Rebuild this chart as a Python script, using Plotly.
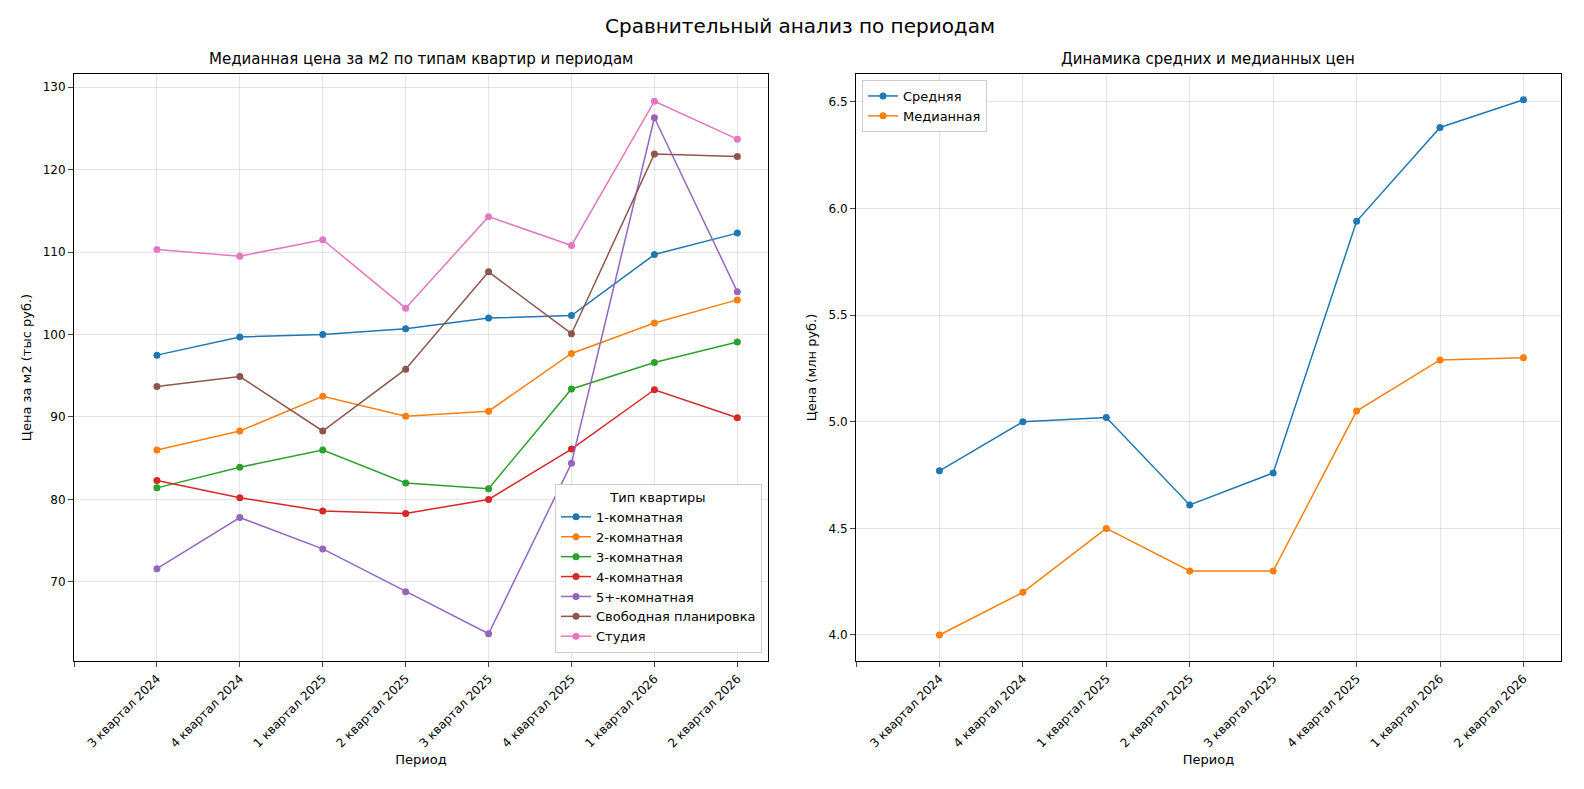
import plotly.graph_objects as go

periods = ["3 квартал 2024","4 квартал 2024","1 квартал 2025","2 квартал 2025",
           "3 квартал 2025","4 квартал 2025","1 квартал 2026","2 квартал 2026"]
types = ["1-комнатная","2-комнатная","3-комнатная","4-комнатная","5+-комнатная",
         "Свободная планировка","Студия"]
room1 = [97.5, 99.7, 100.0, 100.7, 102.0, 102.3, 109.7, 112.3]
room2 = [86.0, 88.3, 92.5, 90.1, 90.7, 97.7, 101.4, 104.2]
room3 = [81.4, 83.9, 86.0, 82.0, 81.3, 93.4, 96.6, 99.1]
room4 = [82.3, 80.2, 78.6, 78.3, 80.0, 86.1, 93.3, 89.9]
room5 = [71.6, 77.8, 74.0, 68.8, 63.7, 84.4, 126.3, 105.2]
free = [93.7, 94.9, 88.3, 95.8, 107.6, 100.1, 121.9, 121.6]
studio = [110.3, 109.5, 111.5, 103.2, 114.3, 110.8, 128.3, 123.7]
mean_price = [4.77, 5.00, 5.02, 4.61, 4.76, 5.94, 6.38, 6.51]
median_price = [4.00, 4.20, 4.50, 4.30, 4.30, 5.05, 5.29, 5.30]

colors = ["#1f77b4","#ff7f0e","#2ca02c","#d62728","#9467bd","#8c564b","#e377c2"]
x = list(range(len(periods)))
fig = go.Figure()
for name, vals, c in zip(types, [room1,room2,room3,room4,room5,free,studio], colors):
    fig.add_trace(go.Scatter(x=x, y=vals, name=name, mode="lines+markers",
        line=dict(color=c, width=1.5), marker=dict(color=c, size=7),
        xaxis="x", yaxis="y", legend="legend"))
fig.add_trace(go.Scatter(x=x, y=mean_price, name="Средняя", mode="lines+markers",
    line=dict(color=colors[0], width=1.5), marker=dict(color=colors[0], size=7),
    xaxis="x2", yaxis="y2", legend="legend2"))
fig.add_trace(go.Scatter(x=x, y=median_price, name="Медианная", mode="lines+markers",
    line=dict(color=colors[1], width=1.5), marker=dict(color=colors[1], size=7),
    xaxis="x2", yaxis="y2", legend="legend2"))

tickvals = [-1] + x
ticktext = [""] + periods
ax = dict(showline=True, linecolor="black", mirror=True, ticks="outside", automargin=False,
          showgrid=True, gridcolor="rgba(0,0,0,0.1)", zeroline=False,
          tickfont=dict(size=12, color="black"))
ydom = [1-653/789, 1-66/789]
fig.update_layout(
    width=1584, height=789, margin=dict(l=0, r=0, t=0, b=0, autoexpand=False),
    paper_bgcolor="white", plot_bgcolor="white",
    font=dict(family="DejaVu Sans", color="black", size=12),
    xaxis=dict(ax, domain=[66/1584, 760/1584], range=[-1, 7.37], tickvals=tickvals,
               ticktext=ticktext, tickangle=-45, title=dict(text="Период", font=dict(size=13), standoff=5)),
    yaxis=dict(ax, domain=ydom, range=[60.4, 131.6], tickvals=[70,80,90,100,110,120,130],
               title=dict(text="Цена за м2 (тыс руб.)", font=dict(size=13), standoff=8)),
    xaxis2=dict(ax, domain=[848/1584, 1553/1584], range=[-1, 7.45], tickvals=tickvals,
                ticktext=ticktext, tickangle=-45, anchor="y2",
                title=dict(text="Период", font=dict(size=13), standoff=5)),
    yaxis2=dict(ax, domain=ydom, range=[3.878, 6.631], anchor="x2",
                tickvals=[4.0,4.5,5.0,5.5,6.0,6.5], ticktext=["4.0","4.5","5.0","5.5","6.0","6.5"],
                title=dict(text="Цена (млн руб.)", font=dict(size=13), standoff=8)),
    legend=dict(x=754/1584, y=1-645/789, xanchor="right", yanchor="bottom",
                xref="paper", yref="paper", bgcolor="white", bordercolor="#ccc", borderwidth=1,
                title=dict(text="Тип квартиры", side="top center", font=dict(size=13)), font=dict(size=13)),
    legend2=dict(x=854/1584, y=1-72/789, xanchor="left", yanchor="top",
                 bgcolor="white", bordercolor="#ccc", borderwidth=1, font=dict(size=13)),
    annotations=[
        dict(text="Сравнительный анализ по периодам", x=0.5, y=1-18/789, xref="paper", yref="paper",
             showarrow=False, font=dict(size=20), xanchor="center", yanchor="middle"),
        dict(text="Медианная цена за м2 по типам квартир и периодам", x=413/1584, y=1-51/789,
             xref="paper", yref="paper", showarrow=False, font=dict(size=15), xanchor="center", yanchor="middle"),
        dict(text="Динамика средних и медианных цен", x=1200/1584, y=1-51/789,
             xref="paper", yref="paper", showarrow=False, font=dict(size=15), xanchor="center", yanchor="middle"),
    ])
fig.write_html("out.html")
